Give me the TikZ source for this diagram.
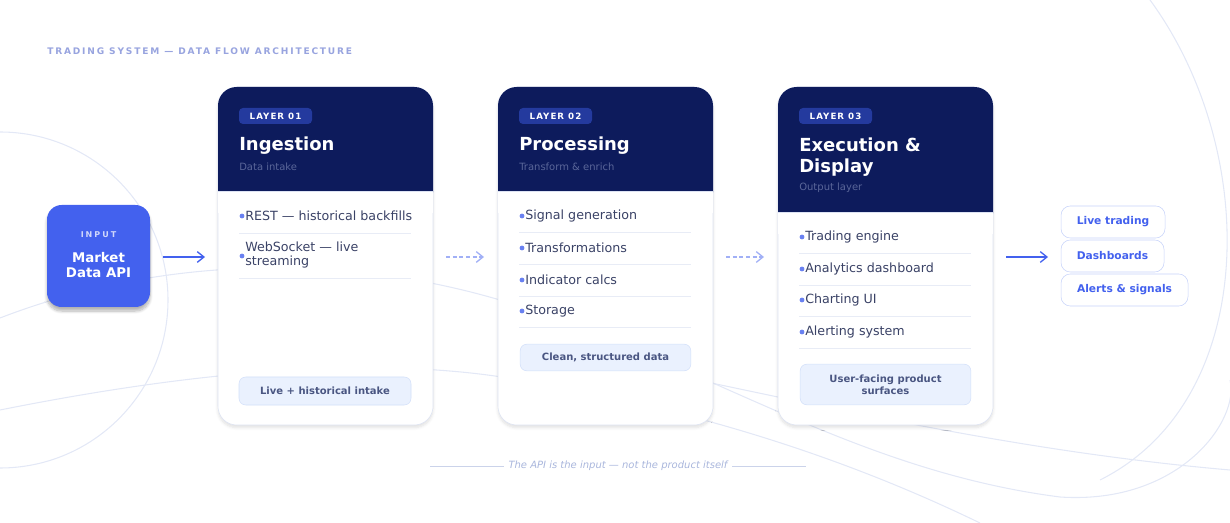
\documentclass[tikz,border=0pt]{standalone}
\usepackage{fontspec}
\setmainfont{DejaVu Sans}
\usetikzlibrary{arrows.meta,shadows.blur}
\definecolor{navy}{HTML}{0D1B5C}
\definecolor{badge}{HTML}{243A9E}
\definecolor{royal}{HTML}{4361EE}
\definecolor{itemc}{HTML}{3A4266}
\definecolor{sepc}{HTML}{E8ECF6}
\definecolor{footc}{HTML}{EAF1FE}
\definecolor{footb}{HTML}{D3E0FA}
\definecolor{foott}{HTML}{4A5682}
\definecolor{cardb}{HTML}{DDE3F3}
\definecolor{bgline}{HTML}{E3E8F6}
\definecolor{subc}{HTML}{5A6699}
\definecolor{capc}{HTML}{A9B6DC}
\definecolor{outb}{HTML}{C7D3FA}
\tikzset{
 card/.style={draw=cardb,fill=white,rounded corners=14,blur shadow={shadow blur steps=6,shadow xshift=0pt,shadow yshift=-2pt,shadow opacity=12}},
 badgebox/.style={fill=badge,rounded corners=3,text=white,font=\fontsize{6.5}{8}\selectfont\bfseries\addfontfeature{LetterSpace=12},inner sep=0pt,minimum width=54.75pt,minimum height=12pt},
 ttl/.style={anchor=west,text=white,font=\fontsize{13.5}{16}\selectfont\bfseries,align=left,inner sep=0pt},
 sub/.style={anchor=west,text=subc,font=\fontsize{7.5}{9}\selectfont,inner sep=0pt},
 item/.style={anchor=west,text=itemc,font=\fontsize{9.5}{10.5}\selectfont,align=left,inner sep=0pt},
 dot/.style={circle,fill=royal!80,inner sep=0pt,minimum size=3.6pt},
 foot/.style={draw=footb,fill=footc,rounded corners=5,text=foott,font=\fontsize{7.5}{9}\selectfont\bfseries,align=center,inner sep=0pt},
 outbox/.style={draw=outb,fill=white,rounded corners=7,text=royal,font=\fontsize{8}{9}\selectfont\bfseries,inner sep=0pt,minimum height=24pt},
 flow/.style={-{Straight Barb[length=5pt,width=8pt]},royal,line width=1pt},
 dflow/.style={flow,draw=royal!50,dashed,dash pattern=on 3pt off 2pt}
}
\begin{document}
\begin{tikzpicture}[x=0.75pt,y=-0.75pt]
\useasboundingbox (0,0) rectangle (1230,523);
% background curves
\begin{scope}[bgline,line width=0.8pt]
\clip (0,0) rectangle (1230,523);
\draw (0,300) circle[radius=168];
\draw (0,318) .. controls (150,260) and (330,250) .. (500,300) .. controls (700,360) and (850,470) .. (1060,497) .. controls (1180,505) and (1240,420) .. (1230,380);
\draw (1150,0) .. controls (1260,150) and (1260,400) .. (1100,480);
\draw (0,410) .. controls (200,370) and (380,355) .. (520,380) .. controls (700,410) and (850,460) .. (980,523);
\draw (600,360) .. controls (800,400) and (1000,450) .. (1230,470);
\end{scope}
% title
\node[anchor=west,inner sep=0pt,text=capc!90!blue,font=\fontsize{6.8}{8}\selectfont\bfseries\addfontfeature{LetterSpace=20}] (title) at (47,51) {TRADING SYSTEM — DATA FLOW ARCHITECTURE};
% input
\node[fill=royal,rounded corners=11,minimum width=77.25pt,minimum height=76.5pt,blur shadow={shadow blur steps=8,shadow xshift=0pt,shadow yshift=-3pt,shadow opacity=30}] (in) at (98.5,256) {};
\node[text=white!75!royal,font=\fontsize{6}{7}\selectfont\bfseries\addfontfeature{LetterSpace=25}] (inl) at (98.5,235) {INPUT};
\node[text=white,font=\fontsize{10}{11.5}\selectfont\bfseries,align=center] (inn) at (98.5,265) {Market\\Data API};
% cards
\foreach \n/\x/\h in {c1/218/191,c2/498/191,c3/778/212}{
 \draw[card] (\x,87) rectangle ++(215,338);
 \fill[navy,rounded corners=14] (\x,87) rectangle ++(215,\h-87+20);
 \fill[white] (\x+0.4,\h) rectangle ++(214.2,22);
 \draw[cardb] (\x,\h) -- ++(215,0);
}
\node (c1) at (325.5,256) {}; \node (c2) at (605.5,256) {}; \node (c3) at (885.5,256) {};
% card 1
\node[badgebox] (b1) at (275.5,116) {LAYER 01};
\node[ttl] (t1) at (239,146) {Ingestion};
\node[sub] (s1) at (239,167) {Data intake};
\node[dot] (d11) at (242,216) {}; \node[item] (i11) at (245,216) {REST — historical backfills};
\draw[sepc] (239,233) -- (411,233);
\node[dot] (d12) at (242,256) {}; \node[item] (i12) at (245,255) {WebSocket — live\\streaming};
\draw[sepc] (239,278) -- (411,278);
\node[foot,minimum width=129pt,minimum height=21pt] (f1) at (325,391) {Live + historical intake};
% card 2
\node[badgebox] (b2) at (555.5,116) {LAYER 02};
\node[ttl] (t2) at (519,146) {Processing};
\node[sub] (s2) at (519,167) {Transform \& enrich};
\foreach \y/\t/\k in {216/Signal generation/1,248/Transformations/2,280/Indicator calcs/3,311/Storage/4}{
 \node[dot] (d2\k) at (522,\y) {}; \node[item] (i2\k) at (525,\y) {\t};
 \draw[sepc] (519,\y+16) -- (691,\y+16);
}
\node[foot,minimum width=128pt,minimum height=20pt] (f2) at (605.5,357.5) {Clean, structured data};
% card 3
\node[badgebox] (b3) at (835.5,116) {LAYER 03};
\node[ttl] (t3) at (799,157) {Execution \&\\Display};
\node[sub] (s3) at (799,188) {Output layer};
\foreach \y/\t/\k in {237/Trading engine/1,269/Analytics dashboard/2,300/Charting UI/3,332/Alerting system/4}{
 \node[dot] (d3\k) at (802,\y) {}; \node[item] (i3\k) at (805,\y) {\t};
 \draw[sepc] (799,\y+16) -- (971,\y+16);
}
\node[foot,minimum width=128pt,minimum height=30.5pt] (f3) at (885.5,384.5) {User-facing product\\surfaces};
% outputs
\node[outbox,minimum width=78pt] (o1) at (1113,222) {Live trading};
\node[outbox,minimum width=77.25pt] (o2) at (1112.5,256) {Dashboards};
\node[outbox,minimum width=95.25pt] (o3) at (1124.5,290) {Alerts \& signals};
% arrows
\coordinate (a1s) at (163,257); \coordinate (a1e) at (205,257);
\coordinate (a2s) at (446,257); \coordinate (a2e) at (484,257);
\coordinate (a3s) at (726,257); \coordinate (a3e) at (764,257);
\coordinate (a4s) at (1006,257); \coordinate (a4e) at (1048,257);
\draw[flow] (a1s) -- (a1e);
\draw[dflow] (a2s) -- (a2e);
\draw[dflow] (a3s) -- (a3e);
\draw[flow] (a4s) -- (a4e);
% caption
\node[text=capc,font=\fontsize{7.5}{9}\selectfont\itshape] (cap) at (618,466) {The API is the input — not the product itself};
\draw[capc!60] (430,466) -- (cap.west);
\draw[capc!60] (cap.east) -- (806,466);
\end{tikzpicture}
\end{document}
